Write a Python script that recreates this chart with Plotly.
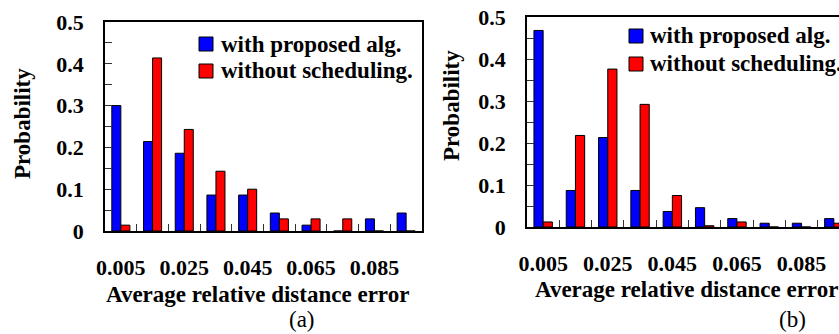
import plotly.graph_objects as go

W, H = 839, 334

categories = [0.005, 0.015, 0.025, 0.035, 0.045, 0.055, 0.065, 0.075, 0.085, 0.095]
x_tick_values = [0.005, 0.025, 0.045, 0.065, 0.085]
x_tick_labels = ["0.005", "0.025", "0.045", "0.065", "0.085"]
y_tick_values = [0, 0.1, 0.2, 0.3, 0.4, 0.5]
y_tick_labels = ["0", "0.1", "0.2", "0.3", "0.4", "0.5"]
series_names = ["with proposed alg.", "without scheduling."]

a_proposed = [0.300, 0.214, 0.186, 0.086, 0.086, 0.043, 0.014, 0.0, 0.029, 0.043]
a_without = [0.014, 0.414, 0.243, 0.143, 0.100, 0.029, 0.029, 0.029, 0.0, 0.0]
b_proposed = [0.468, 0.087, 0.213, 0.087, 0.037, 0.046, 0.020, 0.009, 0.009, 0.020]
b_without = [0.012, 0.218, 0.376, 0.292, 0.075, 0.003, 0.012, 0.0, 0.0, 0.009]

x_title = "Average relative distance error"
y_title = "Probability"
panel_labels = ["(a)", "(b)"]
colors = ["#0000FF", "#FF0000"]

FONT = "Liberation Serif"


def px(x):
    return x / W


def py(y):
    return 1 - y / H


fig = go.Figure()

panels = [
    dict(xa="x", ya="y", data=[a_proposed, a_without]),
    dict(xa="x2", ya="y2", data=[b_proposed, b_without]),
]
for p in panels:
    for name, vals, col in zip(series_names, p["data"], colors):
        fig.add_trace(go.Bar(
            x=categories, y=vals, name=name, xaxis=p["xa"], yaxis=p["ya"],
            marker=dict(color=col, line=dict(color="black", width=1)),
            showlegend=False,
        ))

minor_x = [round(0.01 * i, 3) for i in range(1, 10)]
minor_y = [0.05, 0.15, 0.25, 0.35, 0.45]

tickfont = dict(family=FONT, size=22, color="black", weight="bold")


def xaxis(domain, rng, anchor):
    return dict(
        domain=domain, range=rng, anchor=anchor, tickmode="array", tickvals=x_tick_values,
        ticktext=x_tick_labels, ticks="", tickfont=tickfont, automargin=False,
        ticklabelstandoff=16, showgrid=False, zeroline=False,
        showline=True, linecolor="black", linewidth=1.5, mirror=True,
        minor=dict(tickmode="array", tickvals=minor_x, ticks="inside",
                   ticklen=7, tickcolor="#333", tickwidth=1),
        fixedrange=True,
    )


def yaxis(domain, anchor, mirror):
    return dict(
        domain=domain, range=[0, 0.5], anchor=anchor, tickmode="array",
        tickvals=y_tick_values, ticktext=y_tick_labels, ticks="inside",
        ticklen=7, tickcolor="#333", tickwidth=1, tickfont=tickfont,
        automargin=False, ticklabelstandoff=15, showgrid=False, zeroline=False,
        showline=True, linecolor="black", linewidth=1.5, mirror=mirror,
        minor=dict(tickmode="array", tickvals=minor_y, ticks="inside",
                   ticklen=7, tickcolor="#333", tickwidth=1),
        fixedrange=True,
    )


# panel (a): x 105..422, y 22..231 ; panel (b): x 527..(850), y 17..227
b_left, b_cat = 527, 32.3
b_right_val = (W - b_left) / b_cat * 0.01

fig.update_layout(
    template="none",
    width=W, height=H, margin=dict(l=0, r=0, t=0, b=0, autoexpand=False),
    paper_bgcolor="white", plot_bgcolor="white",
    barmode="group", bargap=0.43, bargroupgap=0,
    font=dict(family=FONT, size=22, color="black"),
    showlegend=False,
    xaxis=xaxis([px(105), px(422)], [0, 0.1], "y"),
    yaxis=yaxis([py(231), py(22)], "x", True),
    xaxis2=xaxis([px(527), 1.0], [0, b_right_val], "y2"),
    yaxis2=yaxis([py(227), py(17)], "x2", False),
)

annotations = []
shapes = []
bold = dict(family=FONT, size=23, color="black", weight="bold")
plain = dict(family=FONT, size=23, color="black")

# axis titles
annotations.append(dict(text=x_title, x=px(257), y=py(294), xref="paper", yref="paper",
                        xanchor="center", yanchor="middle", showarrow=False, font=bold))
annotations.append(dict(text=x_title, x=px(533), y=py(289), xref="paper", yref="paper",
                        xanchor="left", yanchor="middle", showarrow=False, font=bold))
annotations.append(dict(text=y_title, x=px(22), y=py(124), xref="paper", yref="paper",
                        xanchor="center", yanchor="middle", textangle=-90, showarrow=False, font=bold))
annotations.append(dict(text=y_title, x=px(452), y=py(106), xref="paper", yref="paper",
                        xanchor="center", yanchor="middle", textangle=-90, showarrow=False, font=bold))
annotations.append(dict(text=panel_labels[0], x=px(302), y=py(319), xref="paper", yref="paper",
                        xanchor="center", yanchor="middle", showarrow=False, font=plain))
annotations.append(dict(text=panel_labels[1], x=px(792), y=py(319), xref="paper", yref="paper",
                        xanchor="center", yanchor="middle", showarrow=False, font=plain))

# legends
legends = [
    dict(sq_x=199, text_x=219, rows=[44, 71]),
    dict(sq_x=629, text_x=648, rows=[36, 64]),
]
for lg in legends:
    for name, col, yc in zip(series_names, colors, lg["rows"]):
        shapes.append(dict(type="rect", xref="paper", yref="paper",
                           x0=px(lg["sq_x"]), x1=px(lg["sq_x"] + 14),
                           y0=py(yc + 7), y1=py(yc - 7),
                           fillcolor=col, line=dict(color="black", width=1)))
        annotations.append(dict(text=name, x=px(lg["text_x"]), y=py(yc), xref="paper", yref="paper",
                                xanchor="left", yanchor="middle", showarrow=False, font=bold))

fig.update_layout(annotations=annotations, shapes=shapes)

fig.write_html("out.html")
